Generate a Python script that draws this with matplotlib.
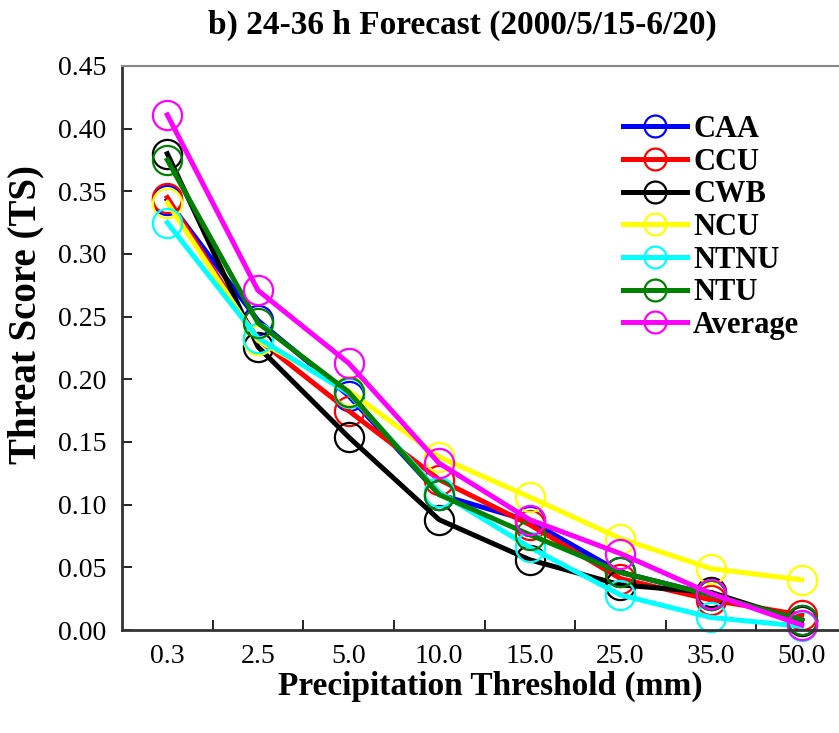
import numpy as np
import matplotlib
matplotlib.use("Agg")
import matplotlib.pyplot as plt

# Threat score by precipitation threshold, 24-36 h forecast
thresholds = ["0.3", "2.5", "5.0", "10.0", "15.0", "25.0", "35.0", "50.0"]

caa = [0.343, 0.247, 0.187, 0.108, 0.087, 0.046, 0.028, 0.008]
ccu = [0.345, 0.232, 0.175, 0.120, 0.084, 0.041, 0.024, 0.012]
cwb = [0.380, 0.226, 0.154, 0.088, 0.056, 0.036, 0.030, 0.007]
ncu = [0.341, 0.231, 0.191, 0.138, 0.106, 0.073, 0.049, 0.040]
ntnu = [0.325, 0.233, 0.189, 0.110, 0.066, 0.028, 0.010, 0.003]
ntu = [0.375, 0.245, 0.190, 0.108, 0.076, 0.046, 0.028, 0.008]
average = [0.411, 0.271, 0.213, 0.133, 0.088, 0.061, 0.029, 0.004]

series_names = ["CAA", "CCU", "CWB", "NCU", "NTNU", "NTU", "Average"]
series_colors = ["#0000FF", "#FF0000", "#000000", "#FFFF00", "#00FFFF", "#008000", "#FF00FF"]

plt.rcParams["font.family"] = ["Liberation Serif", "DejaVu Serif"]

fig = plt.figure(figsize=(8.39, 7.33), dpi=100)
ax = fig.add_axes([122 / 839, 103 / 733, 725 / 839, 564 / 733])

x = np.arange(len(thresholds))
for name, vals, col in zip(series_names, [caa, ccu, cwb, ncu, ntnu, ntu, average], series_colors):
    ax.plot(x, vals, color=col, lw=3.6, marker="o", markersize=21,
            markerfacecolor="none", markeredgecolor=col, markeredgewidth=1.6,
            label=name, clip_on=False)

ax.set_xlim(-0.5, 7.5)
ax.set_ylim(0, 0.45)
ax.set_yticks(np.arange(0, 0.451, 0.05))
ax.set_yticklabels([f"{v:.2f}" for v in np.arange(0, 0.451, 0.05)])
ax.set_xticks(x)
ax.set_xticklabels(thresholds)
ax.set_xticks(np.arange(0.5, 7.5, 1), minor=True)
ax.tick_params(axis="x", which="major", length=0, pad=10, labelsize=20)
ax.tick_params(axis="x", which="minor", direction="in", length=7, width=1.2)
ax.tick_params(axis="y", direction="in", length=7, width=1.2, pad=11, labelsize=20)

for side in ["left", "bottom"]:
    ax.spines[side].set_linewidth(2)
    ax.spines[side].set_color("#333333")
ax.spines["top"].set_linewidth(1.5)
ax.spines["top"].set_color("#888888")
ax.spines["right"].set_visible(False)

leg = ax.legend(loc="upper left", bbox_to_anchor=(0.674, 0.935), frameon=False,
                prop={"weight": "bold", "size": 22}, handlelength=2.1,
                handletextpad=0.2, labelspacing=0.12, borderaxespad=0,
                markerscale=0.75)

fig.text(462 / 839, 1 - 25 / 733, "b) 24-36 h Forecast (2000/5/15-6/20)",
         ha="center", va="center", fontsize=24, fontweight="bold")
fig.text(490 / 839, 1 - 686 / 733, "Precipitation Threshold (mm)",
         ha="center", va="center", fontsize=24, fontweight="bold")
fig.text(26 / 839, 1 - 315 / 733, "Threat Score (TS)", rotation=90,
         ha="center", va="center", fontsize=28, fontweight="bold")

fig.savefig("out.png", dpi=100)
